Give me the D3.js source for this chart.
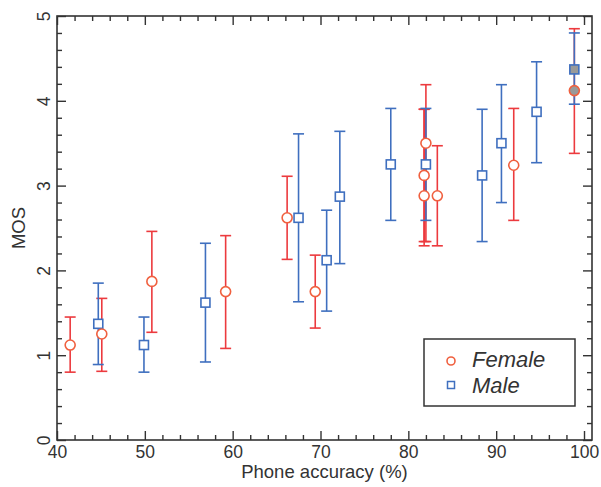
<!DOCTYPE html>
<html>
<head>
<meta charset="utf-8">
<script src="https://cdn.jsdelivr.net/npm/d3@7"></script>
<style>
  body { margin: 0; background: #fff; }
  svg { display: block; font-family: "Liberation Sans", Arial, sans-serif; }
</style>
</head>
<body>
<svg id="chart"></svg>
<script>
// values
const femaleX   = [41.5, 45.1, 50.8, 59.2, 66.2, 69.4, 82.0, 81.8, 81.8, 83.3, 92.0, 98.9];
const femaleMOS = [1.12, 1.25, 1.87, 1.75, 2.62, 1.75, 3.50, 3.12, 2.88, 2.88, 3.24, 4.12];
const femaleLo  = [0.80, 0.81, 1.27, 1.08, 2.13, 1.32, 2.34, 2.29, 2.34, 2.29, 2.59, 3.38];
const femaleHi  = [1.45, 1.67, 2.46, 2.41, 3.11, 2.18, 4.19, 3.90, 3.90, 3.47, 3.91, 4.85];

const maleX   = [44.7, 49.9, 56.9, 67.5, 70.7, 72.2, 78.0, 82.0, 88.4, 90.6, 94.6, 98.9];
const maleMOS = [1.37, 1.12, 1.62, 2.62, 2.12, 2.87, 3.25, 3.25, 3.12, 3.50, 3.87, 4.37];
const maleLo  = [0.89, 0.80, 0.92, 1.63, 1.52, 2.08, 2.59, 2.59, 2.34, 2.80, 3.27, 3.96];
const maleHi  = [1.85, 1.45, 2.32, 3.61, 2.71, 3.64, 3.91, 3.91, 3.90, 4.19, 4.46, 4.80];

const xTicks = [40, 50, 60, 70, 80, 90, 100];
const yTicks = [0, 1, 2, 3, 4, 5];
const seriesNames = ["Female", "Male"];

const width = 601, height = 487;
const mLeft = 57, mRight = 592, mTop = 16, mBottom = 440;
const frame = "#333";

const x = d3.scaleLinear([40, 100.91], [mLeft, mRight]);
const y = d3.scaleLinear([0, 5], [mBottom, mTop]);

const svg = d3.select("#chart")
    .attr("width", width)
    .attr("height", height)
    .attr("viewBox", [0, 0, width, height]);

const xMinor = d3.range(40, 101, 2).filter(v => v % 10 !== 0);
const yMinor = d3.range(0, 5.01, 0.2).filter(v => Math.abs(v - Math.round(v)) > 1e-6);

// helper: inward ticks on one side of the box
function ticks(axisFn, pos, major, minor, labels) {
  const horiz = axisFn === d3.axisBottom || axisFn === d3.axisTop;
  const g = svg.append("g").attr("transform", pos);
  g.append("g")
      .call(axisFn(horiz ? x : y)
        .tickValues(minor).tickSize(-5).tickFormat(""))
      .call(s => s.select(".domain").remove());
  const mg = g.append("g")
      .call(axisFn(horiz ? x : y)
        .tickValues(major).tickSize(-9).tickPadding(6)
        .tickFormat(labels ? d3.format("d") : ""))
      .call(s => s.select(".domain").remove());
  g.selectAll(".tick line").attr("stroke", frame).attr("stroke-width", 1.4);
  mg.selectAll("text").attr("fill", "#333").attr("font-size", 17.5);
  return mg;
}

ticks(d3.axisBottom, `translate(0,${mBottom})`, xTicks, xMinor, true);
ticks(d3.axisTop, `translate(0,${mTop})`, xTicks, xMinor, false);
ticks(d3.axisRight, `translate(${mRight},0)`, yTicks, yMinor, false);
ticks(d3.axisLeft, `translate(${mLeft},0)`, yTicks, yMinor, true)
  .selectAll("text")
    .attr("x", 0).attr("y", -7).attr("dy", null)
    .attr("text-anchor", "middle")
    .attr("transform", "rotate(-90)");

svg.append("rect")
    .attr("x", mLeft).attr("y", mTop)
    .attr("width", mRight - mLeft).attr("height", mBottom - mTop)
    .attr("fill", "none").attr("stroke", frame).attr("stroke-width", 1.6);

// error bars
const female = femaleX.map((v, i) => ({x: v, m: femaleMOS[i], lo: femaleLo[i], hi: femaleHi[i], last: i === femaleX.length - 1}));
const male = maleX.map((v, i) => ({x: v, m: maleMOS[i], lo: maleLo[i], hi: maleHi[i], last: i === maleX.length - 1}));

function errBars(data, color) {
  const g = svg.append("g").attr("stroke", color).attr("stroke-width", 1.6).attr("fill", "none");
  const e = g.selectAll("g").data(data).join("g");
  e.append("line")
      .attr("x1", d => x(d.x)).attr("x2", d => x(d.x))
      .attr("y1", d => y(d.lo)).attr("y2", d => y(d.hi));
  for (const k of ["lo", "hi"]) {
    e.append("line")
        .attr("x1", d => x(d.x) - 5.5).attr("x2", d => x(d.x) + 5.5)
        .attr("y1", d => y(d[k])).attr("y2", d => y(d[k]));
  }
}
errBars(female, "#ec3a3e");
errBars(male, "#3f6fbf");

svg.append("g").selectAll("rect").data(male).join("rect")
    .attr("x", d => x(d.x) - 4.5).attr("y", d => y(d.m) - 4.5)
    .attr("width", 9).attr("height", 9)
    .attr("fill", d => d.last ? "#999" : "#fff")
    .attr("stroke", "#3f6fbf").attr("stroke-width", 1.6);

svg.append("g").selectAll("circle").data(female).join("circle")
    .attr("cx", d => x(d.x)).attr("cy", d => y(d.m)).attr("r", 5)
    .attr("fill", d => d.last ? "#999" : "#fff")
    .attr("stroke", "#f0603f").attr("stroke-width", 1.6);

// axis titles
svg.append("text")
    .attr("x", (mLeft + mRight) / 2).attr("y", 478)
    .attr("text-anchor", "middle").attr("font-size", 18.5).attr("fill", "#333")
    .text("Phone  accuracy (%)");

svg.append("text")
    .attr("transform", `translate(25,${(mTop + mBottom) / 2}) rotate(-90)`)
    .attr("text-anchor", "middle").attr("font-size", 18.5).attr("fill", "#333")
    .text("MOS");

// legend
const lg = svg.append("g");
lg.append("rect")
    .attr("x", 424).attr("y", 339).attr("width", 151).attr("height", 67)
    .attr("fill", "#fff").attr("stroke", frame).attr("stroke-width", 1.5);
lg.append("circle").attr("cx", 451).attr("cy", 361).attr("r", 4)
    .attr("fill", "#fff").attr("stroke", "#f0603f").attr("stroke-width", 1.6);
lg.append("rect").attr("x", 447.5).attr("y", 381.5).attr("width", 7).attr("height", 7)
    .attr("fill", "#fff").attr("stroke", "#3f6fbf").attr("stroke-width", 1.5);
lg.selectAll("text").data(seriesNames).join("text")
    .attr("x", 472).attr("y", (d, i) => 367 + i * 26)
    .attr("font-size", 22).attr("font-style", "italic").attr("fill", "#333")
    .text(d => d);
</script>
</body>
</html>
